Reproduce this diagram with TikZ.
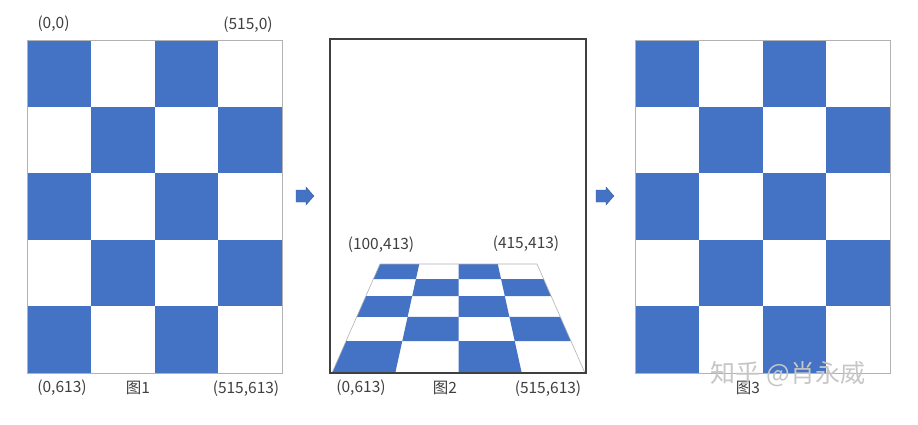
\documentclass[tikz,border=0pt]{standalone}
\usepackage{fontspec}
\setmainfont{Noto Sans CJK SC}
\usetikzlibrary{calc}
\definecolor{cblue}{HTML}{4472C4}
\definecolor{ctext}{HTML}{404040}
\tikzset{
  lbl/.style={font=\fontsize{15.5}{16}\selectfont, text=ctext, inner sep=0pt},
  cell/.style={fill=cblue, draw=none},
  board/.style={draw=gray!60, line width=0.8pt},
  frame2/.style={draw=ctext, line width=1.8pt},
  blockarrow/.style={fill=cblue, draw=cblue!80!black, line width=0.3pt},
}
\begin{document}
\begin{tikzpicture}[x=1pt,y=-1pt]
\useasboundingbox (0,0) rectangle (918,425);
\fill[white] (0,0) rectangle (918,425);
% ---------- figure 1 ----------
\foreach \r in {0,...,4}{
  \foreach \c in {0,...,3}{
    \pgfmathtruncatemacro\pty{mod(\r+\c,2)}
    \ifnum\pty=0
      \fill[cell] ({27+\c*63.75},{40+\r*66.6}) rectangle ({27+(\c+1)*63.75},{40+(\r+1)*66.6});
    \fi
  }
}
\draw[board] (27,40) rectangle (282,373);
% ---------- figure 3 ----------
\foreach \r in {0,...,4}{
  \foreach \c in {0,...,3}{
    \pgfmathtruncatemacro\pty{mod(\r+\c,2)}
    \ifnum\pty=0
      \fill[cell] ({635+\c*63.75},{40+\r*66.6}) rectangle ({635+(\c+1)*63.75},{40+(\r+1)*66.6});
    \fi
  }
}
\draw[board] (635,40) rectangle (890,373);
% ---------- figure 2 ----------
\coordinate (TL) at (380,264);
\coordinate (TR) at (537,264);
\coordinate (BL) at (332,373);
\coordinate (BR) at (585,373);
\def\rowv{{0,0.1376,0.2936,0.4862,0.7064,1}}
\foreach \r in {0,...,4}{
  \foreach \c in {0,...,3}{
    \pgfmathtruncatemacro\pty{mod(\r+\c,2)}
    \ifnum\pty=0
      \pgfmathsetmacro\va{\rowv[\r]}
      \pgfmathsetmacro\vb{\rowv[\r+1]}
      \pgfmathsetmacro\ua{\c/4}
      \pgfmathsetmacro\ub{(\c+1)/4}
      \fill[cell]
        ($($(TL)!\va!(BL)$)!\ua!($(TR)!\va!(BR)$)$) --
        ($($(TL)!\va!(BL)$)!\ub!($(TR)!\va!(BR)$)$) --
        ($($(TL)!\vb!(BL)$)!\ub!($(TR)!\vb!(BR)$)$) --
        ($($(TL)!\vb!(BL)$)!\ua!($(TR)!\vb!(BR)$)$) -- cycle;
    \fi
  }
}
\draw[draw=gray!60, line width=0.6pt] (TL) -- (TR) -- (BR) -- (BL) -- cycle;
\draw[frame2] (330,39) rectangle (586,373);
% ---------- arrows ----------
\fill[blockarrow] (296,190) -- (306,190) -- (306,187) -- (314,196) -- (306,205) -- (306,202) -- (296,202) -- cycle;
\fill[blockarrow] (596,190) -- (606,190) -- (606,187) -- (614,196) -- (606,205) -- (606,202) -- (596,202) -- cycle;
% ---------- labels ----------
\node[lbl] (a00) at (53.5,24) {(0,0)};
\node[lbl] (a5150) at (248,25) {(515,0)};
\node[lbl] (a0613) at (62,388) {(0,613)};
\node[lbl] (f1) at (138,388) {图1};
\node[lbl] (a515613) at (246,389) {(515,613)};
\node[lbl] (b100) at (381,245) {(100,413)};
\node[lbl] (b415) at (526,244) {(415,413)};
\node[lbl] (b0613) at (361,388) {(0,613)};
\node[lbl] (f2) at (445,388) {图2};
\node[lbl] (b515613) at (548,389) {(515,613)};
\node[lbl] (f3) at (748,388) {图3};
\node[font=\fontsize{25}{26}\selectfont, text=gray!45, inner sep=0pt] (wm) at (788,374) {知乎 @肖永威};
\end{tikzpicture}
\end{document}
